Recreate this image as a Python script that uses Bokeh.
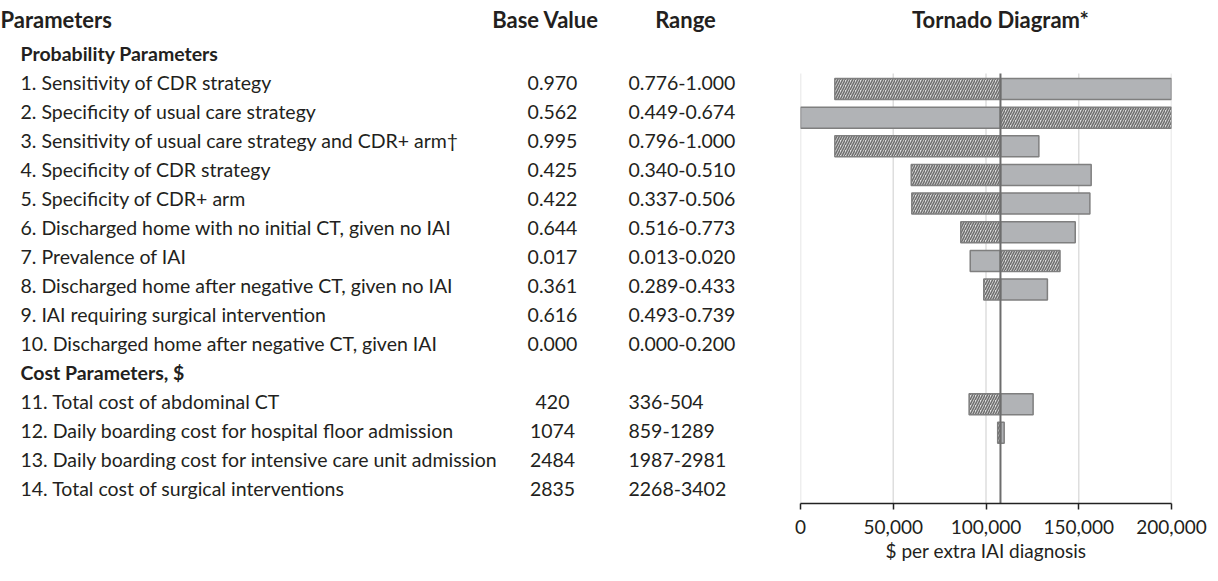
from bokeh.plotting import figure
from bokeh.layouts import row
from bokeh.models import Range1d, FixedTicker, NumeralTickFormatter
from bokeh.core.properties import value
from bokeh.embed import file_html
from bokeh.resources import INLINE

# ---------------- data ----------------
labels = [
    "1. Sensitivity of CDR strategy",
    "2. Specificity  of usual care strategy",
    "3. Sensitivity of usual care strategy and CDR+ arm\u2020",
    "4. Specificity  of CDR strategy",
    "5. Specificity of CDR+ arm",
    "6. Discharged home with no initial CT, given no IAI",
    "7. Prevalence of IAI",
    "8. Discharged home after negative CT, given no IAI",
    "9. IAI requiring surgical intervention",
    "10. Discharged home after negative CT, given IAI",
    "11. Total cost of abdominal CT",
    "12. Daily boarding cost for hospital floor admission",
    "13. Daily boarding cost for intensive care unit admission",
    "14. Total cost of surgical interventions",
]
base_values = ["0.970", "0.562", "0.995", "0.425", "0.422", "0.644", "0.017",
               "0.361", "0.616", "0.000", "420", "1074", "2484", "2835"]
ranges = ["0.776-1.000", "0.449-0.674", "0.796-1.000", "0.340-0.510", "0.337-0.506",
          "0.516-0.773", "0.013-0.020", "0.289-0.433", "0.493-0.739", "0.000-0.200",
          "336-504", "859-1289", "1987-2981", "2268-3402"]
section_headers = ["Probability Parameters", "Cost Parameters, $"]
column_headers = ["Parameters", "Base Value", "Range", "Tornado Diagram*"]

base_case = 107800
# far end of hatched bar / solid bar for each parameter (None = no bar drawn)
hatched_end = [18500, 215000, 18500, 59700, 60000, 86400, 139900, 98800, None, None,
               90900, 106300, None, None]
solid_end = [215000, -10000, 128500, 156700, 156000, 148100, 91500, 133100, None, None,
             125400, 109800, None, None]
x_ticks = [0, 50000, 100000, 150000, 200000]
x_label = "$ per extra IAI diagnosis"

FONT = value("Lato")
FS = "19.5px"
TXT = "#231f20"

# row index: probability params 0..9, cost header at 10, cost params 11..14
row_idx = list(range(10)) + list(range(11, 15))

H = 565
TOP, BOTTOM = 0, 503      # frame spans these y coordinates
BB = H - BOTTOM           # bottom border (axis area)

# ---------------- left table ----------------
left = figure(width=790, height=H, x_range=Range1d(0, 790), y_range=Range1d(BOTTOM, TOP),
              output_backend="svg", toolbar_location=None,
              min_border_left=0, min_border_right=0, min_border_top=0, min_border_bottom=BB)
left.axis.visible = False
left.grid.visible = False
left.outline_line_color = None

text_y = [82 + 29 * i for i in row_idx]
common = dict(text_font=FONT, text_font_size=FS, text_baseline="middle", text_color=TXT)
left.text(x=[20] * len(labels), y=text_y, text=labels, text_align="left", **common)
left.text(x=[552] * len(labels), y=text_y, text=base_values, text_align="center", **common)
left.text(x=[628] * len(labels), y=text_y, text=ranges, text_align="left", **common)
left.text(x=[20, 20], y=[53, 82 + 29 * 10], text=section_headers, text_align="left",
          text_font_style="bold", **common)
hdr = dict(common, text_font_size="22px")
left.text(x=[0], y=[19], text=column_headers[:1], text_align="left",
          text_font_style="bold", **hdr)
left.text(x=[545, 685], y=[19, 19], text=column_headers[1:3], text_align="center",
          text_font_style="bold", **hdr)

# ---------------- tornado chart ----------------
right = figure(width=418, height=H, x_range=Range1d(0, 200000), y_range=Range1d(BOTTOM, TOP),
               output_backend="svg", toolbar_location=None,
               min_border_left=10, min_border_right=37, min_border_top=0, min_border_bottom=BB)
right.grid.visible = False
right.yaxis.visible = False
right.outline_line_color = None

# gridlines
right.segment(x0=x_ticks, x1=x_ticks, y0=[73] * len(x_ticks), y1=[BOTTOM] * len(x_ticks),
              line_color="#dedede", line_width=1.5)

bar_y = [88.5 + 28.65 * i for i in row_idx]
hy, hl, hr, sy, sl, sr = [], [], [], [], [], []
for y, h, s in zip(bar_y, hatched_end, solid_end):
    if h is not None:
        hy.append(y); hl.append(min(h, base_case)); hr.append(max(h, base_case))
    if s is not None:
        sy.append(y); sl.append(min(s, base_case)); sr.append(max(s, base_case))

right.hbar(y=sy, left=sl, right=sr, height=21, fill_color="#b1b3b6",
           line_color="#7f7f7f", line_width=1.5)
right.hbar(y=hy, left=hl, right=hr, height=21, fill_color="#e0e0e0",
           hatch_pattern="/", hatch_color="#6f6f6f", hatch_scale=5, hatch_weight=1.6,
           line_color="#7f7f7f", line_width=1.5)

# base case line
right.segment(x0=[base_case], x1=[base_case], y0=[73], y1=[BOTTOM], line_color="#6d6d6d",
              line_width=2)

# title
right.text(x=[base_case], y=[19], text=[column_headers[3]], text_align="center",
           text_font_style="bold", **hdr)

ax = right.xaxis[0]
ax.ticker = FixedTicker(ticks=x_ticks)
ax.formatter = NumeralTickFormatter(format="0,0")
ax.axis_line_color = "#222222"
ax.axis_line_width = 1.5
ax.major_tick_line_color = "#222222"
ax.major_tick_line_width = 1.5
ax.major_tick_in = 0
ax.major_tick_out = 6
ax.minor_tick_line_color = None
ax.major_label_text_font = "Lato"
ax.major_label_text_font_size = "19px"
ax.major_label_text_color = TXT
ax.major_label_standoff = 10
ax.axis_label = x_label
ax.axis_label_text_font = "Lato"
ax.axis_label_text_font_size = "19px"
ax.axis_label_text_font_style = "normal"
ax.axis_label_text_color = TXT
ax.axis_label_standoff = 2

layout = row(left, right)
open("out.html", "w").write(file_html(layout, INLINE))
